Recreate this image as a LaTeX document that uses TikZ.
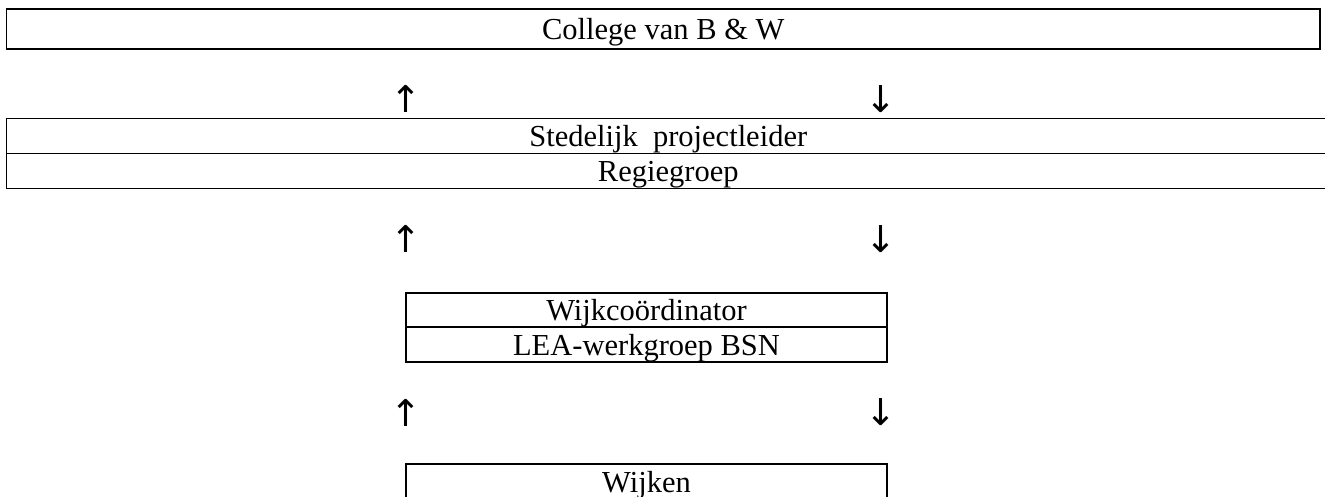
\documentclass[tikz,border=0pt]{standalone}
\usepackage{fontspec}
\setmainfont{Liberation Serif}
\newfontfamily\arrowfont{DejaVu Sans}
\begin{document}
\begin{tikzpicture}[x=1pt,y=-1pt,
  box/.style={draw, line width=1.6pt, inner sep=0pt, outer sep=0pt,
    font=\fontsize{30.5}{36}\selectfont, text height=25pt, text depth=4pt},
  arr/.style={font=\arrowfont\fontsize{37}{40}\selectfont, inner sep=0pt, outer sep=0pt}]
\useasboundingbox (0,0) rectangle (1325,497);
% top row
\node[box, minimum width=1313.5pt, minimum height=40pt] (college) at (663.25,29) {College van B \& W};
\node[arr] (up1) at (406,99) {↑};
\node[arr] (dn1) at (881,99) {↓};
% second block
\node[box, minimum width=1323.5pt, minimum height=35pt] (sted) at (668.25,136) {Stedelijk\ \ projectleider};
\node[box, minimum width=1323.5pt, minimum height=35pt] (regie) at (668.25,171) {Regiegroep};
\node[arr] (up2) at (406,239) {↑};
\node[arr] (dn2) at (881,239) {↓};
% third block
\node[box, minimum width=481pt, minimum height=34pt] (wijkc) at (646.5,310) {Wijkcoördinator};
\node[box, minimum width=481pt, minimum height=35pt] (lea) at (646.5,344.5) {LEA-werkgroep BSN};
\node[arr] (up3) at (406,412.5) {↑};
\node[arr] (dn3) at (881,412.5) {↓};
% bottom
\node[box, minimum width=481pt, minimum height=36pt] (wijken) at (646.5,482) {Wijken};
\end{tikzpicture}
\end{document}
